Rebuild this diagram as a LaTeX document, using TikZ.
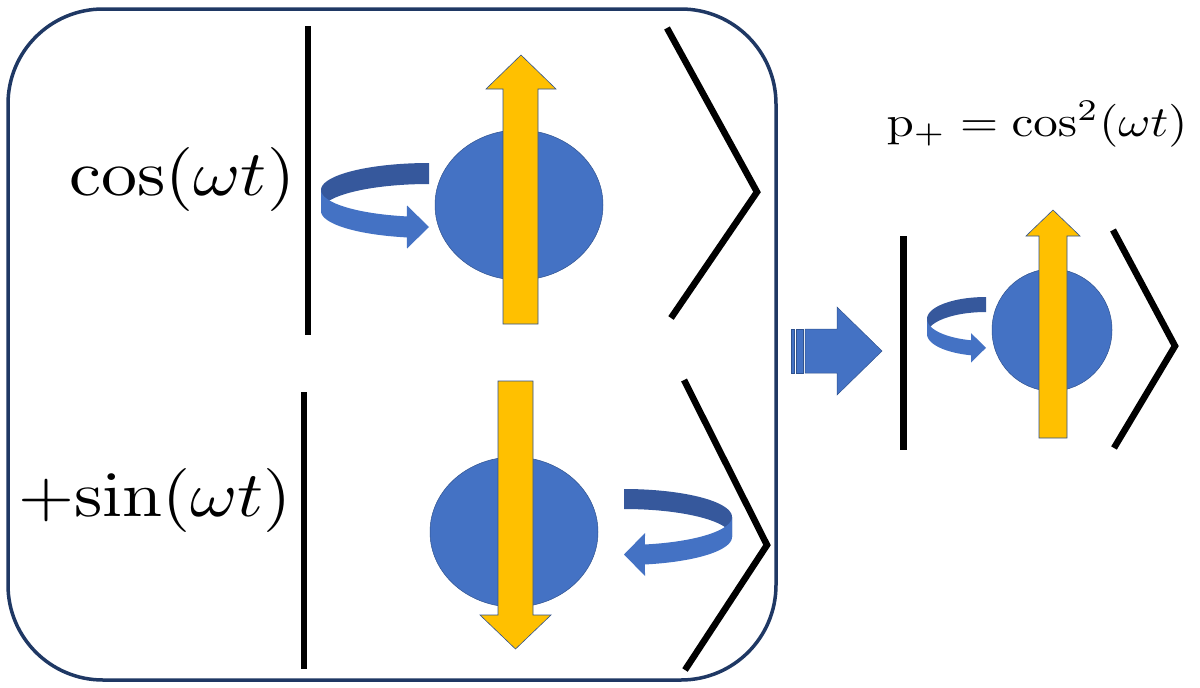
\documentclass[tikz,border=0pt]{standalone}
\usepackage{graphicx}
\definecolor{boxc}{RGB}{31,56,100}
\definecolor{bfront}{RGB}{68,114,196}
\definecolor{bback}{RGB}{54,88,156}
\definecolor{yel}{RGB}{255,192,0}
\definecolor{outl}{RGB}{47,82,143}
\tikzset{
  ketline/.style={line width=6.5pt, black, line join=miter},
  ball/.style={fill=bfront, draw=outl, line width=0.5pt},
  spin/.style={fill=yel, draw=outl, line width=0.6pt},
  ribfront/.style={fill=bfront},
  ribback/.style={fill=bback},
  blockarrow/.style={fill=bfront, draw=outl, line width=0.5pt},
  lbl/.style={inner sep=0pt, outer sep=0pt},
}
\begin{document}
\begin{tikzpicture}[x=1pt,y=-1pt]
\useasboundingbox (0,0) rectangle (1200,688);
\fill[white] (0,0) rectangle (1200,688);
% frame
\draw[boxc, line width=3.5pt, rounded corners=95pt] (8,9) rectangle (776,680);

% ---------- top row ----------
\node[lbl, anchor=east] (cosT) at (295,179) {\scalebox{7.2}[6.4]{$\cos(\omega t)$}};
\draw[ketline] (308,26) -- (308,335);
\draw[ketline] (667,28) -- (757,192) -- (671,318);
\fill[ribback] plot[domain=270:180,samples=40] ({429+108*cos(\x)},{190+27*sin(\x)})
  -- plot[domain=180:270,samples=40] ({429+108*cos(\x)},{211+27*sin(\x)}) -- cycle;
\fill[ribfront] plot[domain=180:101.8,samples=40] ({429+108*cos(\x)},{190+27*sin(\x)})
  -- (407,205.5) -- (429,227) -- (407,248.5)
  -- plot[domain=101.8:180,samples=40] ({429+108*cos(\x)},{211+27*sin(\x)}) -- cycle;
\draw[ball] (519,205) ellipse [x radius=84pt, y radius=75pt];
\draw[spin] (503,324) -- (503,89) -- (486,89) -- (521,55) -- (556,89) -- (538,89) -- (538,324) -- cycle;

% ---------- bottom row ----------
\node[lbl, anchor=east] (sinT) at (292,500) {\scalebox{7.2}[6.4]{$\mathord{+}\mathrm{sin}(\omega t)$}};
\draw[ketline] (304,392) -- (304,669);
\draw[ketline] (684,380) -- (767,545) -- (685,670);
\draw[ball] (514,532) ellipse [x radius=84pt, y radius=75pt];
\draw[spin] (498,381) -- (533,381) -- (533,615) -- (551,615) -- (515.5,649) -- (480,615) -- (498,615) -- cycle;
\fill[ribback] plot[domain=270:360,samples=40] ({624+108*cos(\x)},{517+28*sin(\x)})
  -- plot[domain=360:270,samples=40] ({624+108*cos(\x)},{537+28*sin(\x)}) -- cycle;
\fill[ribfront] plot[domain=0:78.8,samples=40] ({624+108*cos(\x)},{517+28*sin(\x)})
  -- (645,533) -- (624,554.5) -- (645,576)
  -- plot[domain=78.8:0,samples=40] ({624+108*cos(\x)},{537+28*sin(\x)}) -- cycle;

% ---------- striped arrow ----------
\draw[blockarrow] (805,329) -- (837,329) -- (837,307) -- (882,351) -- (837,395) -- (837,373) -- (805,373) -- cycle;
\draw[blockarrow] (791,329) rectangle (794,373);
\draw[blockarrow] (796,329) rectangle (803,373);

% ---------- result ket ----------
\node[lbl] (prob) at (1037,124) {\scalebox{4.9}[4.3]{$\mathrm{p}_{+}=\cos^{2}(\omega t)$}};
\draw[ketline] (903.5,236) -- (903.5,450);
\draw[ketline] (1113,230) -- (1175,346) -- (1114,448);
\fill[ribback] plot[domain=270:180,samples=40] ({986+59*cos(\x)},{319+22*sin(\x)})
  -- plot[domain=180:270,samples=40] ({986+59*cos(\x)},{334+22*sin(\x)}) -- cycle;
\fill[ribfront] plot[domain=180:104.7,samples=40] ({986+59*cos(\x)},{319+22*sin(\x)})
  -- (971,333.1) -- (986,347.8) -- (971,362.5)
  -- plot[domain=104.7:180,samples=40] ({986+59*cos(\x)},{334+22*sin(\x)}) -- cycle;
\draw[ball] (1052,330) ellipse [x radius=60pt, y radius=61pt];
\draw[spin] (1039,438) -- (1039,236) -- (1026,236) -- (1053,210) -- (1080,236) -- (1067,236) -- (1067,438) -- cycle;
\end{tikzpicture}
\end{document}
